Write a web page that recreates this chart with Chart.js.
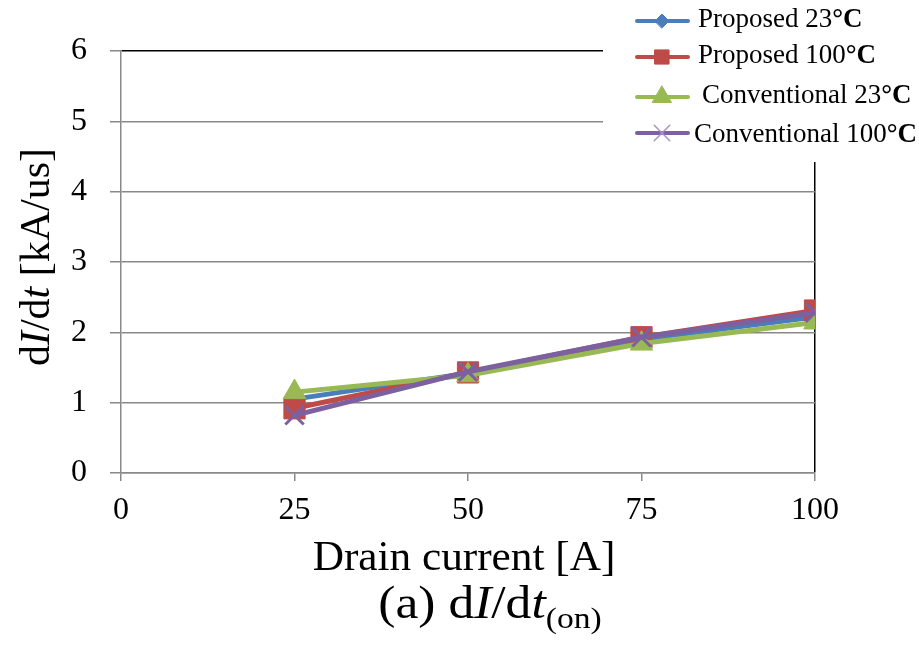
<!DOCTYPE html>
<html>
<head>
<meta charset="utf-8">
<script src="https://cdn.jsdelivr.net/npm/chart.js@4/dist/chart.umd.min.js"></script>
<style>
  html, body { margin: 0; padding: 0; background: #fff; }
  #wrap { width: 919px; height: 646px; }
</style>
</head>
<body>
<div id="wrap"><canvas id="c" width="919" height="646"></canvas></div>
<script>
// ---- data ----
const drainCurrent = [25, 50, 75, 100];
const proposed23 = [1.05, 1.42, 1.90, 2.22];
const proposed100 = [0.92, 1.43, 1.93, 2.31];
const conventional23 = [1.15, 1.39, 1.84, 2.14];
const conventional100 = [0.82, 1.44, 1.93, 2.28];
const seriesNames = ['Proposed 23\u00B0C', 'Proposed 100\u00B0C', 'Conventional 23\u00B0C', 'Conventional 100\u00B0C'];
const xTicks = [0, 25, 50, 75, 100];
const yTicks = [0, 1, 2, 3, 4, 5, 6];
const xTitle = 'Drain current [A]';

const SERIF = "'Liberation Serif', 'Times New Roman', serif";
const toXY = arr => drainCurrent.map((x, i) => ({ x: x, y: arr[i] }));

const colors = ['#4A7EBB', '#BE4B48', '#98B954', '#7D60A0'];
const styles = [
  { pointStyle: 'rectRot', radius: 9, lradius: 7, borderWidth: 1 },
  { pointStyle: 'rect', radius: 15, lradius: 10, borderWidth: 1 },
  { pointStyle: 'triangle', radius: 13, lradius: 11, borderWidth: 1 },
  { pointStyle: 'crossRot', radius: 13, lradius: 11, borderWidth: 3 }
];
const seriesData = [proposed23, proposed100, conventional23, conventional100];

const datasets = seriesData.map((arr, i) => ({
  label: seriesNames[i],
  data: toXY(arr),
  borderColor: colors[i],
  backgroundColor: colors[i],
  pointBackgroundColor: colors[i],
  pointBorderColor: colors[i],
  pointStyle: styles[i].pointStyle,
  pointRadius: styles[i].radius,
  pointHoverRadius: styles[i].radius,
  pointBorderWidth: styles[i].borderWidth,
  borderWidth: 5,
  tension: 0,
  order: 3 - i
}));

function drawSegments(ctx, segs, cx, baseline, scaleX) {
  ctx.save();
  let total = 0;
  segs.forEach(s => { ctx.font = s.font; s.w = ctx.measureText(s.text).width; total += s.w; });
  ctx.translate(cx, baseline);
  ctx.scale(scaleX || 1, 1);
  let x = -total / 2;
  ctx.textAlign = 'left';
  ctx.textBaseline = 'alphabetic';
  ctx.fillStyle = '#000';
  segs.forEach(s => { ctx.font = s.font; ctx.fillText(s.text, x, s.dy || 0); x += s.w; });
  ctx.restore();
}

const textPlugin = {
  id: 'texts',
  afterDraw(chart) {
    const ctx = chart.ctx;
    // legend box (white, overlapping the plot corner)
    ctx.save();
    ctx.fillStyle = '#fff';
    ctx.fillRect(603, 0, 316, 162);
    const rowsY = [21, 57, 97, 133];
    const textX = [698, 698, 702, 694];
    const textY = [27, 63, 103, 142];
    for (let i = 0; i < 4; i++) {
      ctx.strokeStyle = colors[i];
      ctx.lineWidth = 4;
      ctx.lineCap = 'round';
      ctx.beginPath();
      ctx.moveTo(637, rowsY[i]);
      ctx.lineTo(688, rowsY[i]);
      ctx.stroke();
      const mc = i === 3 ? '#A894C8' : colors[i];
      ctx.fillStyle = mc;
      ctx.strokeStyle = mc;
      ctx.lineWidth = i === 3 ? 1.5 : 1;
      Chart.helpers.drawPoint(ctx, { pointStyle: styles[i].pointStyle, radius: styles[i].lradius, rotation: 0, borderWidth: ctx.lineWidth }, 662, rowsY[i]);
      // text
      const name = seriesNames[i];
      const main = name.slice(0, name.length - 2);
      const tail = name.slice(name.length - 2);
      ctx.fillStyle = '#000';
      ctx.textAlign = 'left';
      ctx.textBaseline = 'alphabetic';
      ctx.font = '27px ' + SERIF;
      ctx.fillText(main, textX[i], textY[i]);
      const w = ctx.measureText(main).width;
      ctx.font = 'bold 27px ' + SERIF;
      ctx.fillText(tail, textX[i] + w, textY[i]);
    }
    ctx.restore();

    // x axis title
    drawSegments(ctx, [{ text: xTitle, font: '42px ' + SERIF }], 464, 570, 1.03);

    // caption
    drawSegments(ctx, [
      { text: '(a) d', font: '46px ' + SERIF },
      { text: 'I', font: 'italic 46px ' + SERIF },
      { text: '/d', font: '46px ' + SERIF },
      { text: 't', font: 'italic 46px ' + SERIF },
      { text: '(on)', font: '30px ' + SERIF, dy: 10 }
    ], 490, 618, 1.12);

    // y axis title (rotated)
    ctx.save();
    ctx.translate(49, 257);
    ctx.rotate(-Math.PI / 2);
    drawSegments(ctx, [
      { text: 'd', font: '42px ' + SERIF },
      { text: 'I', font: 'italic 42px ' + SERIF },
      { text: '/d', font: '42px ' + SERIF },
      { text: 't', font: 'italic 42px ' + SERIF },
      { text: ' [kA/us]', font: '42px ' + SERIF }
    ], 0, 0, 1.0);
    ctx.restore();
  }
};

new Chart(document.getElementById('c'), {
  type: 'line',
  data: { datasets: datasets },
  plugins: [textPlugin],
  options: {
    responsive: false,
    devicePixelRatio: 1,
    animation: false,
    events: [],
    layout: { padding: { top: 51, right: 104, left: 0, bottom: 0 } },
    plugins: { legend: { display: false }, tooltip: { enabled: false }, title: { display: false } },
    scales: {
      x: {
        type: 'linear',
        min: 0, max: 100,
        afterBuildTicks: s => { s.ticks = xTicks.map(v => ({ value: v })); },
        afterFit: s => { s.height = 173; },
        ticks: { font: { family: SERIF, size: 32 }, color: '#000', padding: 10, maxRotation: 0 },
        grid: {
          color: c => (c.tick && c.tick.value === 100) ? '#000' : 'rgba(0,0,0,0)',
          tickColor: '#898989',
          tickLength: 8,
          lineWidth: 1.5
        },
        border: { display: true, color: '#898989', width: 1.5 }
      },
      y: {
        min: 0, max: 6,
        afterBuildTicks: s => { s.ticks = yTicks.map(v => ({ value: v })); },
        afterFit: s => { s.width = 121; },
        ticks: { font: { family: SERIF, size: 32 }, color: '#000', padding: 23 },
        grid: {
          color: c => (c.tick && c.tick.value === 6) ? '#000' : '#898989',
          tickColor: '#898989',
          tickLength: 11,
          lineWidth: 1.5
        },
        border: { display: true, color: '#898989', width: 1.5 }
      }
    }
  }
});
</script>
</body>
</html>
